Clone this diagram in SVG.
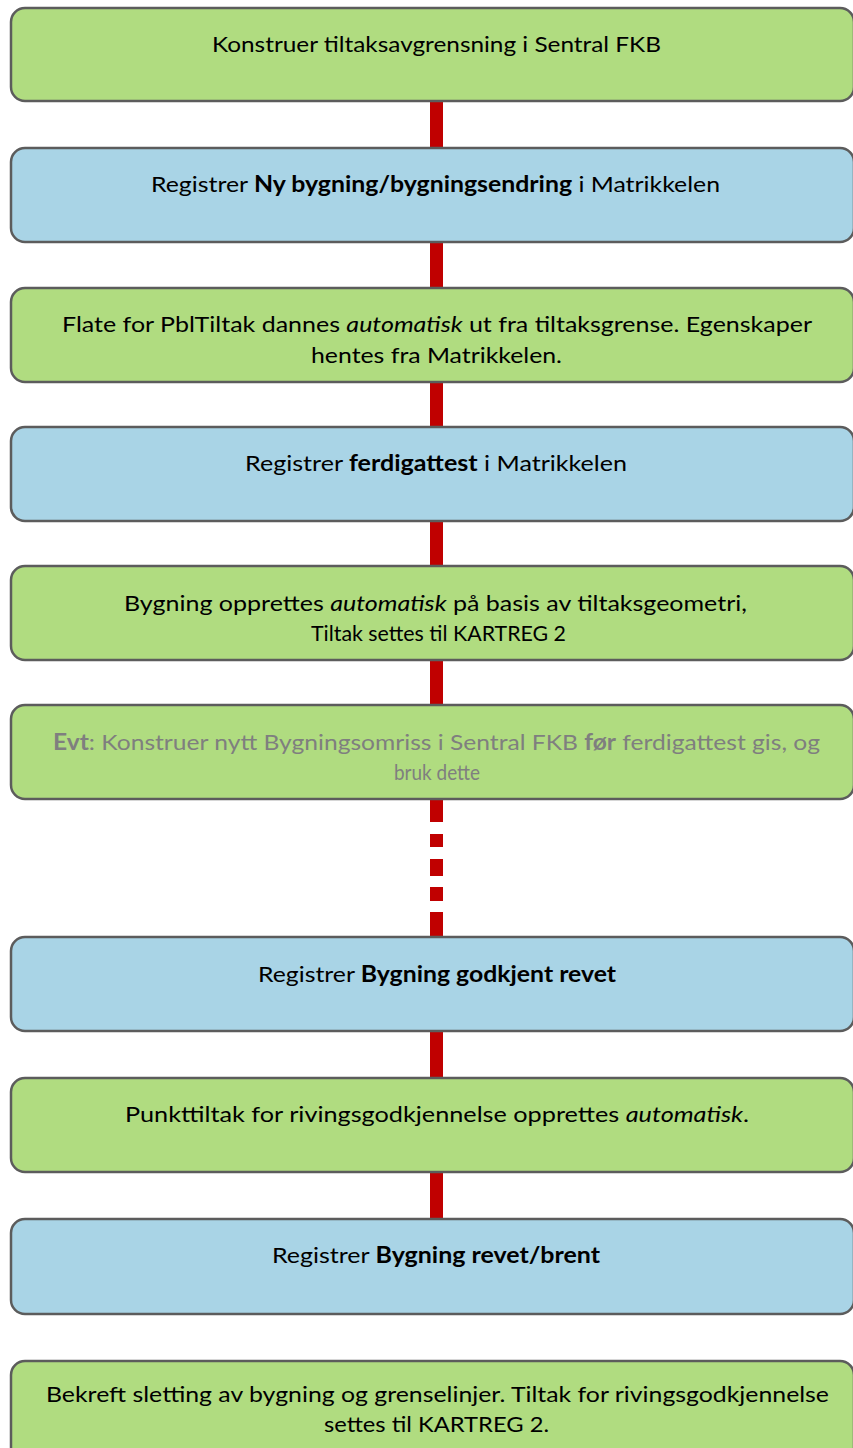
<svg xmlns="http://www.w3.org/2000/svg" width="853" height="1448" viewBox="0 0 853 1448">
<style>
.box{stroke:#5c5c5c;stroke-width:2.5}
.g{fill:#b0dc80}
.b{fill:#a9d4e6}
text{font-family:Lato,"Liberation Sans",sans-serif;font-size:22px;fill:#000;text-anchor:middle}
.grey{fill:#7f7f7f}
.bd{font-weight:bold}
.it{font-style:italic}
.conn{fill:#c00000}
</style>
<rect width="853" height="1448" fill="#fff"/>
<g id="connectors">
<rect class="conn" x="430" y="102" width="13" height="45"/>
<rect class="conn" x="430" y="243" width="13" height="44"/>
<rect class="conn" x="430" y="383" width="13" height="43"/>
<rect class="conn" x="430" y="522" width="13" height="43"/>
<rect class="conn" x="430" y="661" width="13" height="43"/>
<rect class="conn" x="430" y="800" width="13" height="22"/>
<rect class="conn" x="430" y="834" width="13" height="13"/>
<rect class="conn" x="430" y="859" width="13" height="17"/>
<rect class="conn" x="430" y="887" width="13" height="14"/>
<rect class="conn" x="430" y="912" width="13" height="24"/>
<rect class="conn" x="430" y="1032" width="13" height="45"/>
<rect class="conn" x="430" y="1173" width="13" height="45"/>
</g>
<g id="n1">
<rect class="box g" x="11" y="8" width="843" height="93" rx="14"/>
<text x="436.5" y="52" textLength="449" lengthAdjust="spacingAndGlyphs">Konstruer tiltaksavgrensning i Sentral FKB</text>
</g>
<g id="n2">
<rect class="box b" x="11" y="148" width="843" height="94" rx="14"/>
<text x="435.5" y="192" textLength="569" lengthAdjust="spacingAndGlyphs">Registrer <tspan class="bd">Ny bygning/bygningsendring</tspan> i Matrikkelen</text>
</g>
<g id="n3">
<rect class="box g" x="11" y="288" width="843" height="94" rx="14"/>
<text x="437" y="332" textLength="750" lengthAdjust="spacingAndGlyphs">Flate for PblTiltak dannes <tspan class="it">automatisk</tspan> ut fra tiltaksgrense. Egenskaper</text>
<text x="436.5" y="363" textLength="251" lengthAdjust="spacingAndGlyphs">hentes fra Matrikkelen.</text>
</g>
<g id="n4">
<rect class="box b" x="11" y="427" width="843" height="94" rx="14"/>
<text x="436" y="471" textLength="382" lengthAdjust="spacingAndGlyphs">Registrer <tspan class="bd">ferdigattest</tspan> i Matrikkelen</text>
</g>
<g id="n5">
<rect class="box g" x="11" y="566" width="843" height="94" rx="14"/>
<text x="435.5" y="611" textLength="623" lengthAdjust="spacingAndGlyphs">Bygning opprettes <tspan class="it">automatisk</tspan> på basis av tiltaksgeometri,</text>
<text x="438.5" y="641" textLength="255" lengthAdjust="spacingAndGlyphs">Tiltak settes til KARTREG 2</text>
</g>
<g id="n6">
<rect class="box g" x="11" y="705" width="843" height="94" rx="14"/>
<text class="grey" x="436.5" y="750" textLength="767" lengthAdjust="spacingAndGlyphs"><tspan class="bd">Evt</tspan>: Konstruer nytt Bygningsomriss i Sentral FKB <tspan class="bd">før</tspan> ferdigattest gis, og</text>
<text class="grey" x="437" y="780" textLength="86" lengthAdjust="spacingAndGlyphs">bruk dette</text>
</g>
<g id="n7">
<rect class="box b" x="11" y="937" width="843" height="94" rx="14"/>
<text x="437" y="982" textLength="358" lengthAdjust="spacingAndGlyphs">Registrer <tspan class="bd">Bygning godkjent revet</tspan></text>
</g>
<g id="n8">
<rect class="box g" x="11" y="1078" width="843" height="94" rx="14"/>
<text x="437" y="1122" textLength="624" lengthAdjust="spacingAndGlyphs">Punkttiltak for rivingsgodkjennelse opprettes <tspan class="it">automatisk</tspan>.</text>
</g>
<g id="n9">
<rect class="box b" x="11" y="1219" width="843" height="95" rx="14"/>
<text x="436" y="1263" textLength="328" lengthAdjust="spacingAndGlyphs">Registrer <tspan class="bd">Bygning revet/brent</tspan></text>
</g>
<g id="n10">
<rect class="box g" x="11" y="1361" width="843" height="100" rx="14"/>
<text x="437.5" y="1402" textLength="783" lengthAdjust="spacingAndGlyphs">Bekreft sletting av bygning og grenselinjer. Tiltak for rivingsgodkjennelse</text>
<text x="436.5" y="1432" textLength="225" lengthAdjust="spacingAndGlyphs">settes til KARTREG 2.</text>
</g>
</svg>
